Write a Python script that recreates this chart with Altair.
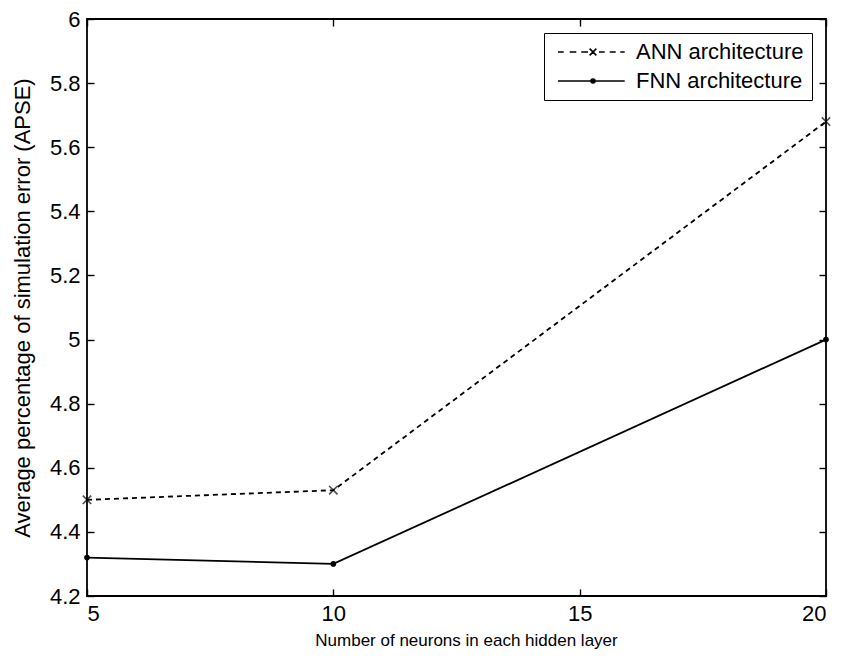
import altair as alt
import pandas as pd

# ---- data ----
neurons = [5, 10, 20]
ann_apse = [4.50, 4.53, 5.68]
fnn_apse = [4.32, 4.30, 5.00]
series_names = ["ANN architecture", "FNN architecture"]
x_ticks = [5, 10, 15, 20]
y_ticks = [4.2, 4.4, 4.6, 4.8, 5.0, 5.2, 5.4, 5.6, 5.8, 6.0]
x_title = "Number of neurons in each hidden layer"
y_title = "Average percentage of simulation error (APSE)"

df = pd.DataFrame({
    "neurons": neurons * 2,
    "apse": ann_apse + fnn_apse,
    "series": [series_names[0]] * len(neurons) + [series_names[1]] * len(neurons),
})

FONT = "Liberation Sans"
x_scale = alt.Scale(domain=[5, 20], nice=False, zero=False)
y_scale = alt.Scale(domain=[4.2, 6.0], nice=False, zero=False)

TICK = 7
axis_common = dict(grid=False, domain=False, tickColor="black", tickWidth=1.4,
                   tickSize=TICK, offset=-TICK, labelColor="black", titleColor="black",
                   labelFont=FONT, titleFont=FONT, titleFontWeight="normal")

x_axis = alt.Axis(values=x_ticks, labelFontSize=22, labelPadding=7, title=x_title,
                  titleFontSize=17, titlePadding=8, titleX=379, titleAlign="center",
                  **axis_common)
y_axis = alt.Axis(values=y_ticks, format="~g", labelFontSize=22, labelPadding=7,
                  title=y_title, titleFontSize=22, titlePadding=15, **axis_common)

mirror_common = dict(grid=False, domain=False, labels=False, title=None,
                     tickColor="black", tickWidth=1.4, tickSize=TICK, offset=-TICK)
x_axis_top = alt.Axis(orient="top", values=x_ticks, **mirror_common)
y_axis_right = alt.Axis(orient="right", values=y_ticks, **mirror_common)


def series_chart(name):
    return alt.Chart(df).transform_filter(alt.datum.series == name)


LW = 1.8
# lines
ann_line = series_chart(series_names[0]).mark_line(
    color="black", strokeWidth=LW, strokeDash=[5, 4]
).encode(
    x=alt.X("neurons:Q", scale=x_scale, axis=x_axis),
    y=alt.Y("apse:Q", scale=y_scale, axis=y_axis),
)
fnn_line = series_chart(series_names[1]).mark_line(
    color="black", strokeWidth=LW
).encode(
    x=alt.X("neurons:Q", scale=x_scale, axis=None),
    y=alt.Y("apse:Q", scale=y_scale, axis=None),
)

# markers
ann_pts = series_chart(series_names[0]).mark_point(
    shape="M-1,-1L1,1M-1,1L1,-1", size=70, color="black", strokeWidth=1.6, filled=False
).encode(
    x=alt.X("neurons:Q", scale=x_scale, axis=None),
    y=alt.Y("apse:Q", scale=y_scale, axis=None),
)
fnn_pts = series_chart(series_names[1]).mark_circle(size=32, color="black", opacity=1).encode(
    x=alt.X("neurons:Q", scale=x_scale, axis=None),
    y=alt.Y("apse:Q", scale=y_scale, axis=None),
)

# legend symbols (line sample + marker), unit = sqrt(symbolSize)/2 px
ann_sym = ("M-1,0L0.14,0M1.34,0L2.66,0M3.66,0L5.0,0"
           "M5.33,-0.67L6.67,0.67M5.33,0.67L6.67,-0.67"
           "M7.2,0L8.34,0M9.34,0L10.54,0M11.46,0L12.34,0")
fnn_sym = ("M-1,0L12.34,0"
           "M5.6,0A0.4,0.4 0 1,0 6.4,0A0.4,0.4 0 1,0 5.6,0Z"
           "M5.8,0A0.2,0.2 0 1,0 6.2,0A0.2,0.2 0 1,0 5.8,0Z")

legend_layer = alt.Chart(df).mark_point(
    filled=False, color="black", strokeWidth=1.6, opacity=0
).encode(
    x=alt.X("neurons:Q", scale=x_scale, axis=x_axis_top),
    y=alt.Y("apse:Q", scale=y_scale, axis=y_axis_right),
    shape=alt.Shape("series:N",
                    scale=alt.Scale(domain=series_names, range=[ann_sym, fnn_sym]),
                    legend=alt.Legend(
                        title=None, orient="top-right", offset=14,
                        symbolSize=100, symbolStrokeColor="black",
                        symbolStrokeWidth=1.6, symbolOpacity=1,
                        labelFont=FONT, labelFontSize=22, labelColor="black",
                        labelLimit=400, labelOffset=62, rowPadding=7,
                        padding=8, strokeColor="black", fillColor="white",
                    )),
)

chart = alt.layer(ann_line, fnn_line, ann_pts, fnn_pts, legend_layer).resolve_axis(
    x="independent", y="independent"
).properties(
    width=739, height=577,
    autosize=alt.AutoSizeParams(type="none"),
    padding={"left": 79, "top": 11, "right": 10, "bottom": 65},
    background="white",
).configure_view(
    stroke="black", strokeWidth=1.8, fill="white"
)

chart.save("out.html", embed_options={"renderer": "svg", "actions": False})
